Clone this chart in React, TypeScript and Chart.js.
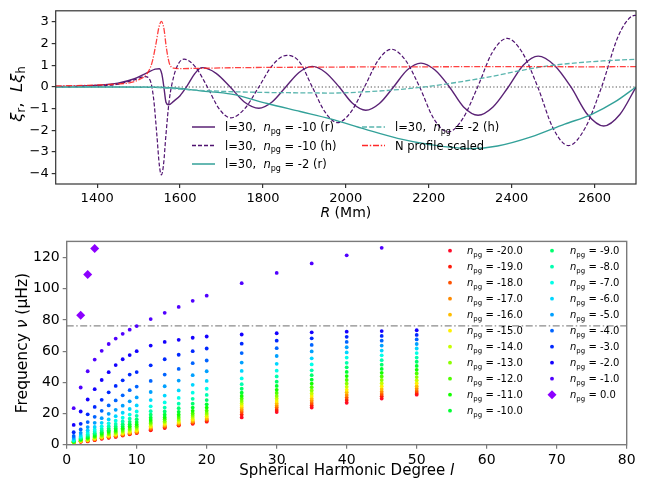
import React, { useEffect, useRef } from "react";
import { Chart, registerables } from "chart.js";
Chart.register(...registerables);

// ---------------- Top panel data (R in Mm) ----------------
const rSolidN10 = [1300,1350,1400,1450,1490,1520,1540,1550,1556,1561,1566,1572,1585,1600,1617,1635,1653,1687,1721,1755,1790,1822,1855,1887,1919,1951,1984,2016,2048,2081,2115,2148,2181,2215,2250,2284,2319,2355,2392,2428,2464,2503,2543,2583,2622,2661,2700];
const xiSolidN10 = [0.02,0.04,0.08,0.18,0.38,0.65,0.82,0.84,0.6,0.0,-0.7,-0.82,-0.65,-0.4,0.05,0.6,0.89,0.63,0.0,-0.69,-0.98,-0.69,0.0,0.67,0.95,0.67,0.0,-0.75,-1.07,-0.76,0.0,0.78,1.1,0.78,0.0,-0.92,-1.3,-0.92,0.0,1.0,1.42,1.0,0.0,-1.27,-1.8,-1.27,0.0];

const rDashN10 = [1300,1400,1450,1490,1516,1528,1536,1544,1550,1555,1560,1566,1574,1585,1597,1610,1638,1666,1694,1722,1756,1790,1824,1858,1888,1919,1950,1980,2012,2045,2078,2110,2144,2178,2212,2247,2282,2318,2353,2389,2426,2463,2500,2537,2577,2617,2657,2690,2700];
const xiDashN10 = [0.0,0.04,0.13,0.33,0.48,0.3,-0.5,-2.2,-3.6,-4.05,-3.6,-2.2,-0.6,0.5,1.1,1.28,0.9,0.0,-1.0,-1.42,-1.0,0.0,1.03,1.46,1.16,0.0,-1.16,-1.64,-1.16,0.0,1.23,1.74,1.23,0.0,-1.46,-2.07,-1.46,0.0,1.58,2.24,1.58,0.0,-1.9,-2.7,-1.9,0.0,2.33,3.26,3.3];

const rSolidN2 = [1300,1450,1550,1600,1649,1724,1810,1890,1963,2044,2125,2205,2302,2366,2447,2528,2592,2649,2700];
const xiSolidN2 = [0.0,0.0,-0.01,-0.07,-0.18,-0.33,-0.76,-1.13,-1.47,-1.93,-2.37,-2.66,-2.84,-2.72,-2.3,-1.71,-1.27,-0.69,0.0];

const rDashN2 = [1300,1500,1550,1600,1700,1800,1900,1963,2050,2150,2205,2280,2350,2420,2480,2550,2620,2700];
const xiDashN2 = [0.0,-0.01,-0.03,-0.1,-0.2,-0.25,-0.27,-0.28,-0.22,-0.08,0.04,0.25,0.48,0.75,0.95,1.1,1.2,1.28];

const rNProfile = [1300,1400,1450,1480,1500,1520,1532,1542,1549,1555,1561,1567,1574,1584,1600,1650,1700,1800,2000,2200,2400,2600,2700];
const nProfileScaled = [0.05,0.09,0.14,0.2,0.33,0.6,1.1,2.0,2.75,3.02,2.7,1.8,1.1,0.87,0.85,0.86,0.88,0.9,0.92,0.93,0.94,0.93,0.94];

const zeroLineR = [1300, 2700];
const zeroLineY = [0, 0];

const topXTicks = [1400, 1600, 1800, 2000, 2200, 2400, 2600];
const topYTicks = [-4, -3, -2, -1, 0, 1, 2, 3];
const topLegendLabels = ["-10 (r)", "-10 (h)", "-2 (r)", "-2 (h)", "N profile scaled"];

// ---------------- Bottom panel data ----------------
const degreeL = [1,2,3,4,5,6,7,8,9,10,12,14,16,18,20,25,30,35,40,45,50];
// frequencies (μHz) for n_pg = -1 ... -20
const freqL1 = [23.4,12.7,8.0,5.6,4.4,3.6,3.1,2.7,2.4,2.2,2.0,1.85,1.75,1.65,1.55,1.5,1.45,1.4,1.35,1.3];
const freqL2 = [36.7,21.3,13.4,9.8,7.6,6.3,5.3,4.6,4.1,3.7,3.4,3.1,2.9,2.7,2.5,2.35,2.2,2.1,2.0,1.9];
const freqL3 = [47.1,29.0,19.5,14.5,11.3,9.2,7.7,6.6,5.8,5.1,4.6,4.1,3.7,3.4,3.1,2.9,2.7,2.5,2.3,2.1];
const freqL4 = [54.6,35.6,24.2,17.9,14.0,11.4,9.6,8.3,7.3,6.5,5.8,5.3,4.8,4.4,4.1,3.8,3.5,3.3,3.1,2.9];
const freqL5 = [60.2,41.5,28.8,21.7,17.0,14.0,11.8,10.2,9.0,8.0,7.2,6.5,5.9,5.4,5.0,4.7,4.4,4.2,4.0,3.8];
const freqL6 = [64.6,46.5,33.6,25.2,19.8,16.2,13.7,11.9,10.4,9.3,8.4,7.6,6.9,6.4,5.9,5.5,5.1,4.8,4.6,4.4];
const freqL7 = [68.1,51.1,37.7,28.4,22.4,18.3,15.4,13.3,11.7,10.4,9.4,8.5,7.8,7.2,6.7,6.2,5.8,5.5,5.2,5.0];
const freqL8 = [71.1,54.8,41.3,31.7,25.0,20.5,17.3,14.9,13.1,11.7,10.5,9.6,8.8,8.1,7.5,7.0,6.6,6.3,6.1,5.9];
const freqL9 = [73.8,57.5,45.0,35.0,27.8,22.9,19.3,16.7,14.7,13.1,11.8,10.7,9.8,9.0,8.4,7.9,7.4,7.1,6.9,6.7];
const freqL10 = [76.1,60.0,46.6,37.3,30.3,25.2,21.3,18.5,16.3,14.5,13.0,11.8,10.8,10.0,9.3,8.7,8.2,7.9,7.7,7.5];
const freqL12 = [80.6,63.6,50.9,40.9,33.8,28.6,24.6,21.5,19.2,17.3,15.9,14.6,13.6,12.7,11.9,11.3,10.7,10.0,9.6,9.2];
const freqL14 = [84.6,65.9,54.8,45.0,37.5,31.5,27.1,23.8,21.3,19.2,17.5,16.3,15.0,14.2,13.4,12.7,12.1,11.5,11.1,10.7];
const freqL16 = [88.4,67.3,57.7,48.6,41.1,34.8,30.0,26.3,23.4,21.1,19.2,17.7,16.5,15.4,14.6,14.0,13.4,12.9,12.5,12.3];
const freqL18 = [92.3,68.6,60.0,52.3,44.6,38.4,33.4,29.4,26.3,23.8,21.7,20.0,18.6,17.3,16.3,15.4,14.8,14.2,13.8,13.4];
const freqL20 = [95.6,69.4,61.7,54.0,47.1,40.9,35.9,31.9,28.6,25.9,23.8,21.9,20.4,19.2,18.2,17.1,16.5,15.9,15.2,14.8];
const freqL25 = [103.6,70.7,64.8,58.8,52.7,47.3,42.5,38.8,35.9,33.4,31.3,29.6,28.0,26.5,25.0,23.7,22.4,21.0,19.3,17.5];
const freqL30 = [110.2,71.5,66.7,61.9,56.9,51.9,47.5,43.8,40.4,37.7,35.2,33.2,31.3,29.6,28.0,26.5,25.0,23.8,22.3,20.9];
const freqL35 = [116.3,72.1,68.2,64.0,59.8,55.4,51.5,47.7,44.6,41.7,39.2,36.9,34.8,32.9,31.3,29.6,28.2,26.7,25.2,23.8];
const freqL40 = [121.5,72.5,69.2,65.9,62.5,59.2,55.9,52.5,49.6,46.7,44.0,41.5,39.2,37.1,35.2,33.6,31.9,30.2,28.6,26.9];
const freqL45 = [126.3,72.9,69.8,66.7,63.6,60.4,57.3,54.2,51.3,48.6,46.1,43.8,41.5,39.4,37.5,35.7,34.0,32.5,31.1,29.6];
const freqL50 = [null,73.4,70.4,67.5,64.6,61.7,58.8,55.9,53.2,50.5,48.0,45.7,43.4,41.3,39.4,37.5,35.9,34.4,33.2,32.1];
const freqColumns = [freqL1,freqL2,freqL3,freqL4,freqL5,freqL6,freqL7,freqL8,freqL9,freqL10,freqL12,freqL14,freqL16,freqL18,freqL20,freqL25,freqL30,freqL35,freqL40,freqL45,freqL50];

const fModeDegree = [2, 3, 4];
const fModeFreq = [83.1, 109.2, 125.9];
const nMaxFreq = 76.2;

const npgValues = [-20,-19,-18,-17,-16,-15,-14,-13,-12,-11,-10,-9,-8,-7,-6,-5,-4,-3,-2,-1,0];
const npgColors = ["#ff0a28","#ff1a0a","#ff5200","#ff8a00","#ffbd00","#fff000","#c8ff00","#8cff00","#50ff00","#14ff00","#00ff32","#00ff6e","#00ffb0","#00ffe8","#00d6ff","#00a0ff","#0064ff","#0028ff","#1400ff","#5000ff","#8c00ff"];

const botXTicks = [0, 10, 20, 30, 40, 50, 60, 70, 80];
const botYTicks = [0, 20, 40, 60, 80, 100, 120];

// ---------------- helpers ----------------
const FONT = "'DejaVu Sans', sans-serif";
type Seg = { t: string; it?: boolean; sub?: boolean };

function drawRich(ctx: CanvasRenderingContext2D, x: number, y: number, segs: Seg[], size: number, color: string, align: "left" | "center") {
  const fontFor = (s: Seg) => `${s.it ? "italic " : ""}${s.sub ? (size * 0.7).toFixed(1) : size}px ${FONT}`;
  let total = 0;
  for (const s of segs) { ctx.font = fontFor(s); total += ctx.measureText(s.t).width; }
  let cx = align === "center" ? x - total / 2 : x;
  ctx.textAlign = "left";
  ctx.textBaseline = "alphabetic";
  ctx.fillStyle = color;
  for (const s of segs) {
    ctx.font = fontFor(s);
    ctx.fillText(s.t, cx, y + (s.sub ? size * 0.24 : 0));
    cx += ctx.measureText(s.t).width;
  }
}

const pts = (xs: number[], ys: (number | null)[]) => xs.map((x, i) => ({ x, y: ys[i] }));
const minusFmt = (v: number) => (v < 0 ? "\u2212" + Math.abs(v) : String(v));

const C_PURPLE = "#5a2275";
const C_PURPLE_D = "#4f1270";
const C_TEAL = "#33a199";
const C_TEAL_D = "#5ab5ae";
const C_RED = "rgba(255,30,30,0.85)";

function axisCommon(boxColor: string, size: number, fmt: (v: number) => string) {
  return {
    grid: { display: true, drawOnChartArea: false, drawTicks: true, tickLength: 4, color: boxColor, tickColor: boxColor, lineWidth: 1.2 },
    border: { display: false },
    ticks: { font: { family: FONT, size }, color: "#000", padding: 3, maxRotation: 0, autoSkip: false, callback: (v: any) => fmt(Number(v)) },
  };
}

export default function App() {
  const topRef = useRef<HTMLCanvasElement>(null);
  const botRef = useRef<HTMLCanvasElement>(null);

  useEffect(() => {
    const topDecor = {
      id: "topDecor",
      afterDraw(chart: any) {
        const { ctx, chartArea: a } = chart;
        ctx.save();
        ctx.setLineDash([]);
        ctx.strokeStyle = "#333";
        ctx.lineWidth = 1.2;
        ctx.strokeRect(a.left, a.top, a.right - a.left, a.bottom - a.top);
        // legend
        const entries = [
          { x: 192, y: 127, color: C_PURPLE, dash: [] as number[], w: 1.5, lab: 0 },
          { x: 192, y: 145.5, color: C_PURPLE_D, dash: [4, 2], w: 1.4, lab: 1 },
          { x: 192, y: 164, color: C_TEAL, dash: [] as number[], w: 1.5, lab: 2 },
          { x: 362, y: 127, color: C_TEAL_D, dash: [5, 2.2], w: 1.5, lab: 3 },
          { x: 362, y: 145.5, color: "rgb(255,40,40)", dash: [6, 1.8, 1.4, 1.8], w: 1.5, lab: 4 },
        ];
        for (const e of entries) {
          ctx.beginPath();
          ctx.setLineDash(e.dash);
          ctx.strokeStyle = e.color;
          ctx.lineWidth = e.w;
          ctx.moveTo(e.x, e.y);
          ctx.lineTo(e.x + 23, e.y);
          ctx.stroke();
          ctx.setLineDash([]);
          const label = topLegendLabels[e.lab];
          const segs: Seg[] = e.lab === 4
            ? [{ t: label }]
            : [{ t: "l=30,  " }, { t: "n", it: true }, { t: "pg", sub: true }, { t: " = " + label }];
          drawRich(ctx, e.x + 33, e.y + 4, segs, 11.5, "#000", "left");
        }
        // y title
        ctx.save();
        ctx.translate(16, 94);
        ctx.rotate(-Math.PI / 2);
        drawRich(ctx, 0, 5.5, [{ t: "ξ", it: true }, { t: "r", sub: true }, { t: ",  " }, { t: "L", it: true }, { t: "ξ", it: true }, { t: "h", sub: true }], 16.5, "#000", "center");
        ctx.restore();
        // x title
        drawRich(ctx, (a.left + a.right) / 2, 217, [{ t: "R", it: true }, { t: " (Mm)" }], 14, "#000", "center");
        ctx.restore();
      },
    };

    const topChart = new Chart(topRef.current!, {
      type: "line",
      data: {
        datasets: [
          { data: pts(rNProfile, nProfileScaled), borderColor: C_RED, borderWidth: 1.3, borderDash: [6, 1.6, 1.2, 1.6], pointRadius: 0, cubicInterpolationMode: "monotone" },
          { data: pts(rDashN2, xiDashN2), borderColor: C_TEAL_D, borderWidth: 1.3, borderDash: [5, 2.2], pointRadius: 0, cubicInterpolationMode: "monotone" },
          { data: pts(rSolidN2, xiSolidN2), borderColor: C_TEAL, borderWidth: 1.4, pointRadius: 0, cubicInterpolationMode: "monotone" },
          { data: pts(rDashN10, xiDashN10), borderColor: C_PURPLE_D, borderWidth: 1.2, borderDash: [4, 2], pointRadius: 0, cubicInterpolationMode: "monotone" },
          { data: pts(rSolidN10, xiSolidN10), borderColor: C_PURPLE, borderWidth: 1.4, pointRadius: 0, cubicInterpolationMode: "monotone" },
          { data: pts(zeroLineR, zeroLineY), borderColor: "#555", borderWidth: 1.2, borderDash: [1.3, 2.2], pointRadius: 0 },
        ] as any,
      },
      options: {
        animation: false,
        responsive: false,
        events: [],
        layout: { padding: { left: 0, right: 20, top: 1.7, bottom: 0 } },
        plugins: { legend: { display: false }, tooltip: { enabled: false } },
        scales: {
          x: {
            type: "linear", min: 1300, max: 2700,
            ...axisCommon("#333", 13, (v) => String(v)),
            afterBuildTicks: (s: any) => { s.ticks = topXTicks.map((v) => ({ value: v })); },
            afterFit: (s: any) => { s.height = 46; },
          },
          y: {
            type: "linear", min: -4.47, max: 3.51,
            ...axisCommon("#333", 13, minusFmt),
            afterBuildTicks: (s: any) => { s.ticks = topYTicks.map((v) => ({ value: v })); },
            afterFit: (s: any) => { s.width = 55.7; },
          },
        },
      } as any,
      plugins: [topDecor],
    });

    const botDecor = {
      id: "botDecor",
      afterDraw(chart: any) {
        const { ctx, chartArea: a } = chart;
        ctx.save();
        ctx.setLineDash([]);
        ctx.strokeStyle = "#7a7a7a";
        ctx.lineWidth = 1.4;
        ctx.strokeRect(a.left, a.top, a.right - a.left, a.bottom - a.top);
        // legend
        npgValues.forEach((n, i) => {
          const col = i < 11 ? 0 : 1;
          const row = col === 0 ? i : i - 11;
          const mx = col === 0 ? 450 : 552;
          const tx = col === 0 ? 467 : 570;
          const my = 20.7 + 16 * row;
          ctx.fillStyle = npgColors[i];
          ctx.beginPath();
          if (n === 0) {
            const r = 4.5;
            ctx.moveTo(mx - r, my); ctx.lineTo(mx, my - r); ctx.lineTo(mx + r, my); ctx.lineTo(mx, my + r); ctx.closePath();
          } else {
            ctx.arc(mx, my, 1.9, 0, Math.PI * 2);
          }
          ctx.fill();
          drawRich(ctx, tx, my + 3.6, [{ t: "n", it: true }, { t: "pg", sub: true }, { t: " = " + n.toFixed(1) }], 10, "#000", "left");
        });
        // y title
        ctx.save();
        ctx.translate(21, (a.top + a.bottom) / 2);
        ctx.rotate(-Math.PI / 2);
        drawRich(ctx, 0, 5.5, [{ t: "Frequency " }, { t: "ν", it: true }, { t: " (μHz)" }], 15.5, "#000", "center");
        ctx.restore();
        drawRich(ctx, (a.left + a.right) / 2, 245, [{ t: "Spherical Harmonic Degree " }, { t: "l", it: true }], 15, "#000", "center");
        ctx.restore();
      },
    };

    const botDatasets: any[] = [];
    botDatasets.push({
      data: pts(fModeDegree, fModeFreq), backgroundColor: npgColors[20], pointStyle: "rectRot", pointRadius: 4.5, borderWidth: 0, showLine: false,
    });
    for (let k = 1; k <= 20; k++) {
      const data = degreeL.map((l, i) => ({ x: l, y: freqColumns[i][k - 1] })).filter((p) => p.y !== null);
      botDatasets.push({ data, backgroundColor: npgColors[20 - k], pointRadius: 1.9, borderWidth: 0, showLine: false });
    }
    botDatasets.push({
      data: [{ x: 0, y: nMaxFreq }, { x: 80, y: nMaxFreq }], borderColor: "#8a8a8a", borderWidth: 1.4, borderDash: [7, 2.5, 1.5, 2.5], pointRadius: 0, showLine: true,
    });

    const botChart = new Chart(botRef.current!, {
      type: "scatter",
      data: { datasets: botDatasets },
      options: {
        animation: false,
        responsive: false,
        events: [],
        layout: { padding: { left: 0, right: 29.3, top: 6, bottom: 0 } },
        plugins: { legend: { display: false }, tooltip: { enabled: false } },
        scales: {
          x: {
            type: "linear", min: 0, max: 80,
            ...axisCommon("#7a7a7a", 14, (v) => String(v)),
            afterBuildTicks: (s: any) => { s.ticks = botXTicks.map((v) => ({ value: v })); },
            afterFit: (s: any) => { s.height = 42.3; },
          },
          y: {
            type: "linear", min: 0, max: 130.4,
            ...axisCommon("#7a7a7a", 14, (v) => String(v)),
            afterBuildTicks: (s: any) => { s.ticks = botYTicks.map((v) => ({ value: v })); },
            afterFit: (s: any) => { s.width = 66.7; },
          },
        },
      } as any,
      plugins: [botDecor],
    });

    return () => { topChart.destroy(); botChart.destroy(); };
  }, []);

  return (
    <div style={{ position: "absolute", left: 0, top: 0, width: 656, height: 487, background: "#fff" }}>
      <canvas ref={topRef} width={656} height={230} style={{ position: "absolute", left: 0, top: 0, width: 656, height: 230 }} />
      <canvas ref={botRef} width={656} height={257} style={{ position: "absolute", left: 0, top: 230, width: 656, height: 257 }} />
    </div>
  );
}
